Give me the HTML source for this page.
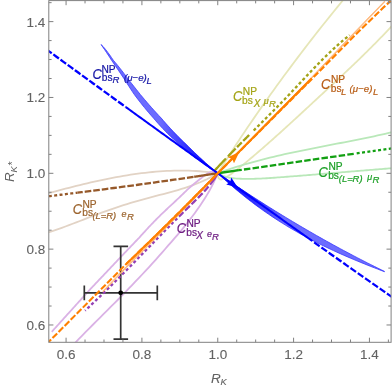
<!DOCTYPE html>
<html><head><meta charset="utf-8"><title>RK vs RK*</title>
<style>
html,body{margin:0;padding:0;background:#fff;}
body{width:392px;height:388px;overflow:hidden;position:relative;font-family:"Liberation Sans",sans-serif;}
svg text{font-family:"Liberation Sans",sans-serif;}
</style></head><body>
<svg width="392" height="388" viewBox="0 0 392 388" style="position:absolute;left:0;top:0;will-change:transform">
<defs><linearGradient id="g1" gradientUnits="userSpaceOnUse" x1="160" y1="0" x2="205" y2="0"><stop offset="0" stop-color="#0000ff" stop-opacity="0"/><stop offset="1" stop-color="#0000ff" stop-opacity="0.9"/></linearGradient><linearGradient id="g2" gradientUnits="userSpaceOnUse" x1="232" y1="0" x2="285" y2="0"><stop offset="0" stop-color="#0000ff" stop-opacity="0.9"/><stop offset="1" stop-color="#0000ff" stop-opacity="0"/></linearGradient><clipPath id="cp"><rect x="48.80" y="0.60" width="342.30" height="341.70"/></clipPath></defs>
<g clip-path="url(#cp)">
<path d="M217.75 173.25 L220.65 168.63 L223.57 164.02 L226.51 159.40 L229.48 154.79 L232.48 150.17 L235.49 145.56 L238.54 140.94 L241.60 136.33 L244.70 131.71 L247.81 127.10 L250.95 122.48 L254.11 117.87 L257.30 113.25 L260.51 108.63 L263.75 104.02 L267.01 99.40 L270.30 94.79 L273.61 90.17 L276.94 85.56 L280.30 80.94 L283.68 76.33 L287.09 71.71 L290.52 67.10 L293.97 62.48 L297.45 57.87 L300.96 53.25 L304.49 48.63 L308.04 44.02 L311.62 39.40 L315.22 34.79 L318.84 30.17 L322.49 25.56 L326.16 20.94 L329.86 16.33 L333.59 11.71 L337.33 7.10 L341.10 2.48 L344.90 -2.13 L348.72 -6.75" fill="none" stroke="#e6e6b8" stroke-width="1.8"/>
<path d="M217.75 173.25 L217.78 175.67 L218.45 177.71 L219.62 179.08 L221.13 179.48 L222.83 178.95 L224.56 178.07 L226.26 177.11 L227.94 176.10 L229.58 175.04 L231.21 173.93 L232.81 172.78 L234.40 171.60 L235.98 170.40 L237.54 169.17 L239.10 167.92 L240.66 166.67 L242.21 165.41 L243.76 164.15 L245.30 162.88 L246.85 161.60 L248.39 160.32 L249.93 159.03 L251.47 157.74 L253.01 156.45 L254.55 155.15 L256.08 153.84 L257.61 152.53 L259.14 151.22 L260.67 149.90 L262.19 148.58 L263.72 147.26 L265.24 145.93 L266.76 144.60 L268.28 143.26 L269.79 141.92 L271.31 140.58 L272.82 139.24 L274.33 137.89 L275.84 136.54 L277.35 135.19 L278.85 133.84 L280.36 132.48 L281.86 131.12 L283.36 129.76 L284.86 128.40 L286.36 127.04 L287.85 125.68 L289.34 124.31 L290.84 122.95 L292.33 121.58 L293.82 120.21 L295.30 118.84 L296.79 117.48 L298.27 116.11 L299.75 114.74 L301.24 113.37 L302.72 112.00 L304.19 110.64 L305.67 109.27 L307.14 107.91 L308.62 106.54 L310.09 105.18 L311.56 103.81 L313.03 102.45 L314.50 101.09 L315.96 99.73 L317.43 98.38 L318.89 97.02 L320.35 95.67 L321.81 94.32 L323.27 92.97 L324.73 91.62 L326.19 90.27 L327.64 88.92 L329.10 87.57 L330.55 86.23 L332.00 84.88 L333.45 83.53 L334.90 82.18 L336.35 80.83 L337.79 79.48 L339.24 78.13 L340.68 76.78 L342.13 75.43 L343.57 74.08 L345.01 72.72 L346.45 71.36 L347.89 70.00 L349.33 68.64 L350.76 67.28 L352.20 65.91 L353.63 64.54 L355.06 63.17 L356.50 61.79 L357.93 60.41 L359.36 59.03 L360.79 57.64 L362.22 56.25 L363.64 54.85 L365.07 53.45 L366.49 52.05 L367.92 50.64 L369.34 49.23 L370.76 47.81 L372.19 46.39 L373.61 44.96 L375.03 43.52 L376.45 42.08 L377.86 40.64 L379.28 39.18 L380.70 37.73 L382.11 36.26 L383.53 34.79 L384.94 33.31 L386.36 31.82 L387.77 30.33 L389.18 28.83 L390.59 27.32 L392.01 25.80" fill="none" stroke="#e6e6b8" stroke-width="1.8"/>
<path d="M217.75 173.25 L221.47 171.92 L225.19 170.62 L228.91 169.37 L232.63 168.15 L236.35 166.97 L240.07 165.82 L243.79 164.70 L247.51 163.62 L251.22 162.57 L254.94 161.54 L258.66 160.55 L262.38 159.58 L266.10 158.63 L269.82 157.71 L273.54 156.81 L277.26 155.93 L280.98 155.08 L284.70 154.24 L288.42 153.42 L292.14 152.61 L295.86 151.82 L299.58 151.04 L303.30 150.28 L307.02 149.52 L310.73 148.78 L314.45 148.04 L318.17 147.31 L321.89 146.59 L325.61 145.87 L329.33 145.15 L333.05 144.43 L336.77 143.72 L340.49 143.00 L344.21 142.28 L347.93 141.56 L351.65 140.83 L355.37 140.10 L359.09 139.36 L362.81 138.61 L366.53 137.85 L370.24 137.07 L373.96 136.29 L377.68 135.49 L381.40 134.67 L385.12 133.84 L388.84 132.99 L392.56 132.12 L396.28 131.23 L400.00 130.32" fill="none" stroke="#b9e8b9" stroke-width="1.8"/>
<path d="M217.75 173.25 L219.48 174.22 L221.21 175.06 L222.96 175.79 L224.71 176.41 L226.47 176.94 L228.23 177.38 L230.01 177.74 L231.79 178.03 L233.57 178.26 L235.37 178.44 L237.17 178.57 L238.97 178.68 L240.78 178.75 L242.60 178.81 L244.42 178.85 L246.24 178.87 L248.07 178.88 L249.91 178.87 L251.74 178.85 L253.59 178.81 L255.43 178.76 L257.28 178.70 L259.13 178.63 L260.98 178.54 L262.83 178.45 L264.69 178.35 L266.55 178.24 L268.41 178.12 L270.27 178.00 L272.13 177.87 L274.00 177.74 L275.86 177.61 L277.72 177.47 L279.59 177.33 L281.45 177.19 L283.31 177.04 L285.17 176.90 L287.04 176.76 L288.90 176.61 L290.76 176.47 L292.62 176.32 L294.48 176.17 L296.33 176.03 L298.19 175.88 L300.05 175.73 L301.91 175.58 L303.77 175.43 L305.62 175.28 L307.48 175.13 L309.33 174.98 L311.19 174.83 L313.04 174.68 L314.90 174.53 L316.75 174.37 L318.61 174.22 L320.46 174.07 L322.32 173.92 L324.17 173.76 L326.02 173.61 L327.87 173.46 L329.73 173.30 L331.58 173.15 L333.43 172.99 L335.28 172.84 L337.13 172.69 L338.98 172.53 L340.83 172.38 L342.68 172.22 L344.53 172.07 L346.38 171.92 L348.23 171.76 L350.08 171.61 L351.93 171.45 L353.78 171.30 L355.63 171.15 L357.48 171.00 L359.33 170.84 L361.18 170.69 L363.03 170.54 L364.88 170.39 L366.73 170.24 L368.57 170.08 L370.42 169.93 L372.27 169.78 L374.12 169.63 L375.97 169.48 L377.82 169.34 L379.66 169.19 L381.51 169.04 L383.36 168.89 L385.21 168.75 L387.06 168.60 L388.91 168.46 L390.75 168.31 L392.60 168.17 L394.45 168.02 L396.30 167.88 L398.15 167.74 L400.00 167.60" fill="none" stroke="#b9e8b9" stroke-width="1.8"/>
<path d="M40.00 195.44 L43.63 194.46 L47.26 193.49 L50.88 192.52 L54.51 191.55 L58.14 190.60 L61.77 189.65 L65.39 188.71 L69.02 187.78 L72.65 186.86 L76.28 185.96 L79.90 185.07 L83.53 184.19 L87.16 183.33 L90.79 182.49 L94.41 181.67 L98.04 180.86 L101.67 180.08 L105.30 179.32 L108.92 178.59 L112.55 177.88 L116.18 177.19 L119.81 176.53 L123.43 175.90 L127.06 175.30 L130.69 174.73 L134.32 174.19 L137.94 173.68 L141.57 173.21 L145.20 172.78 L148.83 172.38 L152.45 172.01 L156.08 171.69 L159.71 171.40 L163.34 171.16 L166.96 170.96 L170.59 170.80 L174.22 170.69 L177.85 170.62 L181.47 170.60 L185.10 170.63 L188.73 170.71 L192.36 170.84 L195.98 171.02 L199.61 171.25 L203.24 171.54 L206.87 171.88 L210.49 172.28 L214.12 172.73 L217.75 173.25" fill="none" stroke="#e2d3c5" stroke-width="1.8"/>
<path d="M40.00 234.57 L43.63 233.65 L47.26 232.63 L50.88 231.53 L54.51 230.36 L58.14 229.12 L61.77 227.84 L65.39 226.51 L69.02 225.16 L72.65 223.77 L76.28 222.38 L79.90 220.97 L83.53 219.56 L87.16 218.15 L90.79 216.76 L94.41 215.37 L98.04 214.01 L101.67 212.67 L105.30 211.35 L108.92 210.06 L112.55 208.80 L116.18 207.57 L119.81 206.37 L123.43 205.21 L127.06 204.08 L130.69 202.98 L134.32 201.90 L137.94 200.86 L141.57 199.84 L145.20 198.84 L148.83 197.86 L152.45 196.90 L156.08 195.94 L159.71 194.98 L163.34 194.02 L166.96 193.05 L170.59 192.06 L174.22 191.05 L177.85 190.01 L181.47 188.92 L185.10 187.77 L188.73 186.57 L192.36 185.29 L195.98 183.93 L199.61 182.47 L203.24 180.90 L206.87 179.20 L210.49 177.38 L214.12 175.40 L217.75 173.25" fill="none" stroke="#e2d3c5" stroke-width="1.8"/>
<path d="M217.75 173.24 L216.33 172.12 L214.93 171.54 L213.54 171.39 L212.17 171.56 L210.81 171.95 L209.46 172.50 L208.13 173.19 L206.81 173.98 L205.50 174.86 L204.21 175.80 L202.92 176.78 L201.65 177.77 L200.38 178.76 L199.13 179.75 L197.88 180.74 L196.65 181.72 L195.42 182.71 L194.20 183.71 L192.99 184.72 L191.78 185.74 L190.58 186.77 L189.39 187.82 L188.24 188.89 L187.10 189.97 L185.96 191.05 L184.83 192.14 L183.70 193.24 L182.58 194.33 L181.45 195.42 L180.33 196.50 L179.21 197.57 L178.10 198.63 L176.98 199.69 L175.86 200.74 L174.75 201.78 L173.64 202.81 L172.53 203.85 L171.42 204.87 L170.32 205.90 L169.21 206.93 L168.11 207.95 L167.01 208.98 L165.91 210.01 L164.82 211.04 L163.73 212.07 L162.64 213.11 L161.55 214.16 L160.47 215.22 L159.39 216.28 L158.31 217.34 L157.24 218.42 L156.17 219.50 L155.10 220.59 L154.03 221.68 L152.97 222.78 L151.91 223.89 L150.85 225.00 L149.79 226.12 L148.74 227.24 L147.69 228.37 L146.64 229.50 L145.59 230.63 L144.54 231.77 L143.50 232.91 L142.46 234.06 L141.42 235.21 L140.38 236.36 L139.35 237.52 L138.26 238.68 L137.13 239.84 L136.01 241.00 L134.89 242.17 L133.77 243.34 L132.65 244.51 L131.53 245.68 L130.41 246.85 L129.29 248.02 L128.18 249.19 L127.06 250.37 L125.95 251.54 L124.84 252.71 L123.73 253.88 L122.62 255.06 L121.51 256.23 L120.40 257.40 L119.29 258.57 L118.19 259.74 L117.08 260.91 L115.98 262.07 L114.87 263.24 L113.77 264.40 L112.66 265.57 L111.56 266.73 L110.46 267.89 L109.36 269.05 L108.26 270.22 L107.16 271.38 L106.06 272.54 L104.96 273.70 L103.86 274.85 L102.76 276.01 L101.66 277.17 L100.56 278.33 L99.47 279.49 L98.37 280.64 L97.27 281.80 L96.18 282.96 L95.08 284.11 L93.99 285.27 L92.89 286.42 L91.79 287.58 L90.73 288.73 L89.68 289.89 L88.63 291.05 L87.58 292.20 L86.53 293.36 L85.48 294.51 L84.43 295.67 L83.39 296.83 L82.34 297.98 L81.29 299.14 L80.24 300.30 L79.19 301.45 L78.14 302.61 L77.09 303.77 L76.04 304.93 L74.99 306.09 L73.94 307.25 L72.89 308.41 L71.84 309.57 L70.79 310.73 L69.74 311.89 L68.69 313.06 L67.64 314.22 L66.58 315.38 L65.53 316.55 L64.48 317.72 L63.42 318.88 L62.37 320.05 L61.32 321.22 L60.26 322.39 L59.21 323.56 L58.15 324.74 L57.09 325.91 L56.04 327.09 L54.98 328.26 L53.92 329.44 L52.86 330.62 L51.80 331.80" fill="none" stroke="#dab2e5" stroke-width="1.8"/>
<path d="M217.75 173.25 L216.25 176.86 L214.64 180.46 L212.92 184.07 L211.09 187.68 L209.12 191.29 L206.98 194.89 L204.75 198.50 L202.43 202.11 L200.01 205.71 L197.50 209.32 L194.91 212.93 L192.23 216.54 L189.48 220.14 L186.65 223.75 L183.74 227.36 L180.77 230.96 L177.73 234.57 L174.63 238.18 L171.46 241.79 L168.26 245.39 L165.18 249.00 L162.05 252.61 L158.87 256.21 L155.65 259.82 L152.39 263.43 L149.08 267.04 L145.74 270.64 L142.37 274.25 L138.97 277.86 L135.54 281.46 L132.10 285.07 L128.63 288.68 L125.14 292.29 L121.64 295.89 L118.13 299.50 L114.53 303.11 L110.91 306.71 L107.29 310.32 L103.67 313.93 L100.06 317.54 L96.45 321.14 L92.86 324.75 L89.28 328.36 L85.72 331.96 L82.18 335.57 L78.66 339.18 L75.17 342.79 L71.71 346.39 L68.29 350.00" fill="none" stroke="#dab2e5" stroke-width="1.8"/>
<g stroke="#333333" stroke-width="1.7" fill="none"><path d="M120.7 246.4V339.1M113.5 246.4H128.1M113.5 339.1H128.1M84.3 292.8H157.3M84.3 285.4V300.2M157.3 285.4V300.2"/></g>
<circle cx="120.7" cy="292.8" r="2.4" fill="#000"/>
<path d="M101.02 44.50 L103.67 47.13 L105.80 49.76 L107.82 52.38 L109.74 55.01 L111.56 57.64 L113.35 60.27 L115.59 62.89 L117.75 65.52 L119.86 68.15 L121.92 70.78 L123.93 73.40 L125.91 76.03 L127.86 78.66 L129.88 81.29 L131.96 83.91 L134.03 86.54 L136.11 89.17 L138.19 91.80 L140.28 94.42 L142.47 97.05 L144.70 99.68 L146.95 102.31 L149.23 104.93 L151.54 107.56 L153.90 110.19 L156.29 112.82 L158.73 115.44 L161.21 118.07 L163.46 120.70 L165.77 123.33 L168.13 125.95 L170.54 128.58 L173.01 131.21 L175.54 133.84 L178.12 136.46 L180.76 139.09 L183.46 141.72 L186.22 144.35 L188.87 146.97 L191.52 149.60 L194.23 152.23 L196.99 154.86 L199.80 157.48 L202.66 160.11 L205.56 162.74 L208.52 165.37 L211.56 167.99 L214.64 170.62 L217.75 173.25 L217.75 173.25 L213.57 170.62 L209.61 167.99 L205.95 165.37 L202.28 162.74 L198.62 160.11 L194.96 157.48 L191.50 154.86 L188.28 152.23 L185.17 149.60 L182.18 146.97 L179.24 144.35 L176.27 141.72 L173.39 139.09 L170.61 136.46 L167.92 133.84 L165.31 131.21 L162.79 128.58 L160.35 125.95 L157.98 123.33 L155.68 120.70 L153.45 118.07 L151.12 115.44 L148.84 112.82 L146.61 110.19 L144.44 107.56 L142.31 104.93 L140.23 102.31 L138.19 99.68 L136.18 97.05 L134.24 94.42 L132.48 91.80 L130.76 89.17 L129.05 86.54 L127.37 83.91 L125.69 81.29 L123.98 78.66 L122.22 76.03 L120.47 73.40 L118.71 70.78 L116.94 68.15 L115.17 65.52 L113.37 62.89 L111.56 60.27 L109.87 57.64 L108.17 55.01 L106.44 52.38 L104.67 49.76 L102.87 47.13 L101.02 44.50Z" fill="#6c6cff" stroke="#3a3aff" stroke-width="0.8" stroke-linejoin="round"/>
<path d="M101.02 44.50 L103.67 47.13 L105.80 49.76 L107.82 52.38 L109.74 55.01 L111.56 57.64 L113.35 60.27 L115.59 62.89 L117.75 65.52 L119.86 68.15 L121.92 70.78 L123.93 73.40 L125.91 76.03 L127.86 78.66 L129.88 81.29 L131.96 83.91 L134.03 86.54 L136.11 89.17 L138.19 91.80 L140.28 94.42 L142.47 97.05 L144.70 99.68 L146.95 102.31 L149.23 104.93 L151.54 107.56 L153.90 110.19 L156.29 112.82 L158.73 115.44 L161.21 118.07 L163.46 120.70 L165.77 123.33 L168.13 125.95 L170.54 128.58 L173.01 131.21 L175.54 133.84 L178.12 136.46 L180.76 139.09 L183.46 141.72 L186.22 144.35 L188.87 146.97 L191.52 149.60 L194.23 152.23 L196.99 154.86 L199.80 157.48 L202.66 160.11 L205.56 162.74 L208.52 165.37 L211.56 167.99 L214.64 170.62 L217.75 173.25 L217.75 173.25 L213.57 170.62 L209.61 167.99 L205.95 165.37 L202.28 162.74 L198.62 160.11 L194.96 157.48 L191.50 154.86 L188.28 152.23 L185.17 149.60 L182.18 146.97 L179.24 144.35 L176.27 141.72 L173.39 139.09 L170.61 136.46 L167.92 133.84 L165.31 131.21 L162.79 128.58 L160.35 125.95 L157.98 123.33 L155.68 120.70 L153.45 118.07 L151.12 115.44 L148.84 112.82 L146.61 110.19 L144.44 107.56 L142.31 104.93 L140.23 102.31 L138.19 99.68 L136.18 97.05 L134.24 94.42 L132.48 91.80 L130.76 89.17 L129.05 86.54 L127.37 83.91 L125.69 81.29 L123.98 78.66 L122.22 76.03 L120.47 73.40 L118.71 70.78 L116.94 68.15 L115.17 65.52 L113.37 62.89 L111.56 60.27 L109.87 57.64 L108.17 55.01 L106.44 52.38 L104.67 49.76 L102.87 47.13 L101.02 44.50Z" fill="url(#g1)" stroke="none"/>
<path d="M217.75 173.25 L221.15 175.59 L224.56 177.92 L227.96 180.23 L231.36 182.53 L234.77 184.82 L238.17 187.09 L241.57 189.35 L244.97 191.59 L248.38 193.82 L251.78 196.04 L255.18 198.24 L258.59 200.42 L261.99 202.60 L265.39 204.76 L268.80 206.90 L272.20 209.03 L275.60 211.15 L279.01 213.25 L282.41 215.34 L285.81 217.41 L289.21 219.47 L292.62 221.51 L296.02 223.55 L299.42 225.56 L302.83 227.57 L306.23 229.55 L309.63 231.53 L313.04 233.49 L316.44 235.44 L319.84 237.37 L323.24 239.29 L326.65 241.19 L330.05 243.08 L333.45 244.96 L336.86 246.82 L340.26 248.66 L343.66 250.50 L347.07 252.32 L350.47 254.12 L353.87 255.91 L357.28 257.69 L360.68 259.45 L364.08 261.20 L367.48 262.93 L370.89 264.65 L374.29 266.36 L377.69 268.05 L381.10 269.73 L384.50 271.39 L384.50 271.73 L381.10 270.43 L377.69 269.12 L374.29 267.80 L370.89 266.47 L367.48 265.13 L364.08 263.76 L360.68 262.39 L357.28 260.99 L353.87 259.57 L350.47 258.13 L347.07 256.68 L343.66 255.19 L340.26 253.69 L336.86 252.16 L333.45 250.60 L330.05 249.01 L326.65 247.40 L323.24 245.76 L319.84 244.08 L316.44 242.37 L313.04 240.63 L309.63 238.85 L306.23 237.04 L302.83 235.19 L299.42 233.30 L296.02 231.37 L292.62 229.40 L289.21 227.39 L285.81 225.33 L282.41 223.23 L279.01 221.08 L275.60 218.89 L272.20 216.65 L268.80 214.36 L265.39 212.02 L261.99 209.62 L258.59 207.18 L255.18 204.68 L251.78 202.12 L248.38 199.51 L244.97 196.84 L241.57 194.11 L238.17 191.32 L234.77 188.47 L231.36 185.56 L227.96 182.58 L224.56 179.54 L221.15 176.43 L217.75 173.25Z" fill="#6c6cff" stroke="#3a3aff" stroke-width="0.8" stroke-linejoin="round"/>
<path d="M217.75 173.25 L221.15 175.59 L224.56 177.92 L227.96 180.23 L231.36 182.53 L234.77 184.82 L238.17 187.09 L241.57 189.35 L244.97 191.59 L248.38 193.82 L251.78 196.04 L255.18 198.24 L258.59 200.42 L261.99 202.60 L265.39 204.76 L268.80 206.90 L272.20 209.03 L275.60 211.15 L279.01 213.25 L282.41 215.34 L285.81 217.41 L289.21 219.47 L292.62 221.51 L296.02 223.55 L299.42 225.56 L302.83 227.57 L306.23 229.55 L309.63 231.53 L313.04 233.49 L316.44 235.44 L319.84 237.37 L323.24 239.29 L326.65 241.19 L330.05 243.08 L333.45 244.96 L336.86 246.82 L340.26 248.66 L343.66 250.50 L347.07 252.32 L350.47 254.12 L353.87 255.91 L357.28 257.69 L360.68 259.45 L364.08 261.20 L367.48 262.93 L370.89 264.65 L374.29 266.36 L377.69 268.05 L381.10 269.73 L384.50 271.39 L384.50 271.73 L381.10 270.43 L377.69 269.12 L374.29 267.80 L370.89 266.47 L367.48 265.13 L364.08 263.76 L360.68 262.39 L357.28 260.99 L353.87 259.57 L350.47 258.13 L347.07 256.68 L343.66 255.19 L340.26 253.69 L336.86 252.16 L333.45 250.60 L330.05 249.01 L326.65 247.40 L323.24 245.76 L319.84 244.08 L316.44 242.37 L313.04 240.63 L309.63 238.85 L306.23 237.04 L302.83 235.19 L299.42 233.30 L296.02 231.37 L292.62 229.40 L289.21 227.39 L285.81 225.33 L282.41 223.23 L279.01 221.08 L275.60 218.89 L272.20 216.65 L268.80 214.36 L265.39 212.02 L261.99 209.62 L258.59 207.18 L255.18 204.68 L251.78 202.12 L248.38 199.51 L244.97 196.84 L241.57 194.11 L238.17 191.32 L234.77 188.47 L231.36 185.56 L227.96 182.58 L224.56 179.54 L221.15 176.43 L217.75 173.25Z" fill="url(#g2)" stroke="none"/>
<path d="M194.20 176.76 L190.18 177.35 L186.16 177.94 L182.14 178.52 L178.12 179.10 L174.10 179.68 L170.08 180.25 L166.06 180.82 L162.03 181.39 L158.01 181.96 L153.99 182.52 L149.97 183.08 L145.95 183.64 L141.93 184.19 L137.91 184.74 L133.89 185.29 L129.87 185.84 L125.85 186.38 L121.83 186.92 L117.81 187.46 L113.79 187.99 L109.77 188.52 L105.74 189.05 L101.72 189.58 L97.70 190.10 L93.68 190.62 L89.66 191.13 L85.64 191.65 L81.62 192.16 L77.60 192.67" fill="none" stroke="#96592a" stroke-width="2.3" stroke-dasharray="6.6 2.0" stroke-dashoffset="7.9"/>
<path d="M217.75 173.25 L216.94 173.37 L216.13 173.50 L215.31 173.62 L214.50 173.74 L213.69 173.86 L212.88 173.98 L212.07 174.11 L211.25 174.23 L210.44 174.35 L209.63 174.47 L208.82 174.59 L208.01 174.71 L207.19 174.84 L206.38 174.96 L205.57 175.08 L204.76 175.20 L203.94 175.32 L203.13 175.44 L202.32 175.56 L201.51 175.68 L200.70 175.80 L199.88 175.92 L199.07 176.04 L198.26 176.16 L197.45 176.28 L196.64 176.40 L195.82 176.52 L195.01 176.64 L194.20 176.76" fill="none" stroke="#96592a" stroke-width="2.3"/>
<path d="M77.60 192.67 L76.30 192.83 L75.01 192.99 L73.71 193.15 L72.41 193.32 L71.12 193.48 L69.82 193.64 L68.52 193.80 L67.23 193.96 L65.93 194.12 L64.63 194.28 L63.34 194.44 L62.04 194.60 L60.74 194.76 L59.45 194.92 L58.15 195.08 L56.86 195.24 L55.56 195.40 L54.26 195.56 L52.97 195.71 L51.67 195.87 L50.37 196.03 L49.08 196.18 L47.78 196.34 L46.48 196.50 L45.19 196.65 L43.89 196.81 L42.59 196.96 L41.30 197.12 L40.00 197.27" fill="none" stroke="#96592a" stroke-width="2.3" stroke-dasharray="3.0 2.4" stroke-dashoffset="1.0"/>
<path d="M217.75 173.25 L238.90 170.23" fill="none" stroke="#12a012" stroke-width="2.3"/>
<path d="M238.90 170.23 L354.50 153.69" fill="none" stroke="#12a012" stroke-width="2.3" stroke-dasharray="6.5 2.2" stroke-dashoffset="3.6"/>
<path d="M354.50 153.69 L400.00 147.19" fill="none" stroke="#12a012" stroke-width="2.3" stroke-dasharray="3.0 2.4" stroke-dashoffset="-2.2"/>
<path d="M214.30 171.00 L214.95 170.29 L215.60 169.57 L216.25 168.86 L216.90 168.15 L217.55 167.44 L218.21 166.73 L218.86 166.02 L219.52 165.32 L220.18 164.61 L220.84 163.91 L221.50 163.20 L222.16 162.50 L222.82 161.80 L223.48 161.10 L224.15 160.40 L224.81 159.70 L225.48 159.00 L226.14 158.31 L226.81 157.61 L227.48 156.92 L228.15 156.22 L228.82 155.53 L229.49 154.84 L230.16 154.14 L230.83 153.45 L231.50 152.76 L232.17 152.07 L232.85 151.38 L233.52 150.70 L234.20 150.01 L234.87 149.32 L235.55 148.63 L236.23 147.95 L236.90 147.26 L237.58 146.58 L238.26 145.89 L238.94 145.21 L239.62 144.53 L240.30 143.84 L240.98 143.16 L241.66 142.48 L242.34 141.80 L243.02 141.11 L243.70 140.43 L244.38 139.75 L245.06 139.07 L245.75 138.39 L246.43 137.71 L247.11 137.03 L247.79 136.35 L248.48 135.67 L249.16 134.99 L249.84 134.31 L250.53 133.63 L251.21 132.95 L251.89 132.27" fill="none" stroke="#a3a316" stroke-width="2.3" stroke-dasharray="17 3 11 2 6.7 2 8.4 50"/>
<path d="M252.58 131.59 L253.26 130.91 L253.94 130.23 L254.63 129.56 L255.31 128.88 L255.99 128.20 L256.68 127.52 L257.36 126.84 L258.04 126.16 L258.72 125.48 L259.41 124.80 L260.09 124.12 L260.77 123.44 L261.45 122.76 L262.13 122.08 L262.82 121.40 L263.50 120.72 L264.18 120.04 L264.86 119.35 L265.54 118.67 L266.22 117.99 L266.90 117.31 L267.58 116.63 L268.26 115.94 L268.94 115.26 L269.62 114.58 L270.30 113.89 L270.98 113.21 L271.66 112.53 L272.33 111.84 L273.01 111.16 L273.69 110.47 L274.36 109.79 L275.04 109.10 L275.72 108.41 L276.39 107.73 L277.07 107.04 L277.74 106.35 L278.41 105.66 L279.09 104.97 L279.76 104.28 L280.43 103.59 L281.11 102.90 L281.78 102.21 L282.45 101.52 L283.12 100.83 L283.79 100.14 L284.46 99.44 L285.13 98.75 L285.80 98.06 L286.46 97.36 L287.13 96.67 L287.80 95.97 L288.46 95.27 L289.13 94.58 L289.79 93.88 L290.46 93.18 L291.12 92.48 L291.78 91.78 L292.44 91.08 L293.11 90.38 L293.77 89.68 L294.43 88.97 L295.09 88.27 L295.75 87.57 L296.41 86.86 L297.07 86.16 L297.73 85.46 L298.39 84.75 L299.04 84.05 L299.70 83.35 L300.36 82.64 L301.02 81.94 L301.68 81.23 L302.34 80.53 L303.00 79.82 L303.66 79.12 L304.32 78.42 L304.98 77.71 L305.64 77.01 L306.30 76.31 L306.96 75.60 L307.62 74.90 L308.28 74.20 L308.94 73.50 L309.60 72.80 L310.27 72.10 L310.93 71.40 L311.59 70.70 L312.26 70.00 L312.93 69.30 L313.59 68.61 L314.26 67.91 L314.93 67.22 L315.60 66.52 L316.27 65.83 L316.94 65.14 L317.61 64.45 L318.28 63.76 L318.96 63.07 L319.63 62.38 L320.31 61.69 L320.99 61.01 L321.67 60.32 L322.35 59.64 L323.03 58.96 L323.71 58.28 L324.40 57.60 L325.08 56.93 L325.77 56.25 L326.46 55.58 L327.15 54.90 L327.85 54.23 L328.54 53.56 L329.24 52.90 L329.93 52.23 L330.63 51.57 L331.33 50.91 L332.04 50.25 L332.74 49.59 L333.45 48.93 L334.16 48.28 L334.87 47.63 L335.59 46.98 L336.30 46.33 L337.02 45.69 L337.74 45.04 L338.46 44.40 L339.19 43.77 L339.91 43.13 L340.64 42.50 L341.37 41.87 L342.11 41.24 L342.85 40.61 L343.59 39.99 L344.33 39.37 L345.07 38.75 L345.82 38.13 L346.57 37.52 L347.32 36.91 L348.08 36.30 L348.84 35.70 L349.60 35.10" fill="none" stroke="#a3a316" stroke-width="2.3" stroke-dasharray="3.0 2.4" stroke-dashoffset="-1.5"/>
<path d="M217.75 173.25 L217.29 174.06 L216.82 174.87 L216.34 175.66 L215.85 176.46 L215.35 177.24 L214.84 178.02 L214.32 178.80 L213.79 179.57 L213.25 180.34 L212.70 181.10 L212.14 181.85 L211.58 182.60 L211.01 183.35 L210.43 184.09 L209.84 184.83 L209.24 185.57 L208.64 186.30 L208.03 187.02 L207.42 187.75 L206.79 188.47 L206.17 189.18 L205.53 189.90 L204.89 190.60 L204.25 191.31 L203.60 192.02 L202.95 192.72 L202.29 193.42 L201.63 194.11 L200.96 194.81 L200.29 195.50 L199.62 196.19 L198.94 196.88 L198.26 197.57 L197.58 198.25 L196.90 198.93 L196.21 199.62 L195.52 200.30 L194.83 200.98 L194.14 201.66 L193.45 202.34 L192.75 203.02 L192.06 203.70 L191.37 204.37 L190.67 205.05 L189.98 205.73 L189.28 206.41 L188.59 207.08 L187.90 207.76 L187.21 208.44 L186.51 209.12 L185.82 209.80 L185.14 210.48 L184.45 211.16 L183.76 211.84 L183.07 212.52 L182.38 213.20 L181.70 213.88 L181.01 214.56 L180.33 215.24 L179.64 215.93 L178.96 216.61" fill="none" stroke="#9440b4" stroke-width="2.3" stroke-dasharray="13.8 2.3 6.7 2.3 6.7 2.3 6.7 2.3 6.7 2.3 6.7 2.3 6.7 2.3 6.7 2.3 6.7 2.3 6.7 2.3 6.7 2.3 6.7 2.3 6.7 2.3"/>
<path d="M178.28 217.29 L177.59 217.97 L176.91 218.66 L176.23 219.34 L175.55 220.02 L174.87 220.71 L174.19 221.39 L173.51 222.07 L172.83 222.76 L172.15 223.44 L171.47 224.13 L170.80 224.81 L170.12 225.50 L169.44 226.18 L168.77 226.87 L168.09 227.55 L167.42 228.24 L166.74 228.92 L166.07 229.61 L165.39 230.30 L164.72 230.98 L164.05 231.67 L163.37 232.35 L162.70 233.04 L162.03 233.73 L161.36 234.41 L160.68 235.10 L160.01 235.79 L159.34 236.47 L158.67 237.16 L158.00 237.85 L157.33 238.54 L156.66 239.22 L155.99 239.91 L155.32 240.60 L154.65 241.29 L153.98 241.97 L153.31 242.66 L152.64 243.35 L151.97 244.04 L151.30 244.72 L150.63 245.41 L149.96 246.10 L149.29 246.79 L148.63 247.47 L147.96 248.16 L147.29 248.85 L146.62 249.54 L145.95 250.22 L145.28 250.91 L144.61 251.60 L143.94 252.29 L143.28 252.97 L142.61 253.66 L141.94 254.35 L141.27 255.03 L140.60 255.72 L139.93 256.41 L139.26 257.10 L138.59 257.78 L137.92 258.47 L137.25 259.16 L136.59 259.84 L135.92 260.53 L135.25 261.22 L134.58 261.90 L133.91 262.59 L133.24 263.27 L132.56 263.96 L131.89 264.64 L131.22 265.33 L130.55 266.02 L129.88 266.70 L129.21 267.39 L128.54 268.07 L127.86 268.75 L127.19 269.44 L126.52 270.12 L125.84 270.81 L125.17 271.49 L124.50 272.17 L123.82 272.86 L123.15 273.54 L122.47 274.22 L121.80 274.91 L121.12 275.59 L120.44 276.27 L119.77 276.95 L119.09 277.64 L118.41 278.32 L117.73 279.00 L117.05 279.68 L116.37 280.36 L115.69 281.04 L115.01 281.72 L114.33 282.40 L113.65 283.08 L112.97 283.76 L112.29 284.44 L111.60 285.12 L110.92 285.79 L110.24 286.47 L109.55 287.15 L108.87 287.83 L108.18 288.50 L107.49 289.18 L106.81 289.85 L106.12 290.53 L105.43 291.21 L104.74 291.88 L104.05 292.56 L103.36 293.23 L102.67 293.90 L101.97 294.58 L101.28 295.25 L100.59 295.92 L99.89 296.59 L99.20 297.27 L98.50 297.94 L97.80 298.61 L97.10 299.28 L96.41 299.95 L95.71 300.62 L95.01 301.29 L94.30 301.96 L93.60 302.62 L92.90 303.29 L92.19 303.96 L91.49 304.63 L90.78 305.29 L90.08 305.96 L89.37 306.62 L88.66 307.29 L87.95 307.95 L87.24 308.62 L86.53 309.28 L85.81 309.94 L85.10 310.60" fill="none" stroke="#9440b4" stroke-width="2.3" stroke-dasharray="3.0 2.4" stroke-dashoffset="-1.5"/>
<path d="M40.00 44.72 L41.75 46.00 L43.50 47.27 L45.25 48.55 L47.00 49.83 L48.76 51.11 L50.51 52.38 L52.26 53.66 L54.01 54.94 L55.76 56.21 L57.51 57.49 L59.26 58.77 L61.01 60.04 L62.76 61.32 L64.51 62.59 L66.27 63.87 L68.02 65.14 L69.77 66.42 L71.52 67.69 L73.27 68.97 L75.02 70.24 L76.77 71.51 L78.52 72.79 L80.27 74.06 L82.02 75.33 L83.78 76.61 L85.53 77.88 L87.28 79.15 L89.03 80.42 L90.78 81.69 L92.53 82.97 L94.28 84.24 L96.03 85.51 L97.78 86.78 L99.53 88.05 L101.29 89.32 L103.04 90.59 L104.79 91.86 L106.54 93.13 L108.29 94.40 L110.04 95.67 L111.79 96.93 L113.54 98.20 L115.29 99.47 L117.04 100.74 L118.80 102.01 L120.55 103.27 L122.30 104.54 L124.05 105.81 L125.80 107.08" fill="none" stroke="#0000ff" stroke-width="2.3" stroke-dasharray="6.9 2.0" stroke-dashoffset="1.3"/>
<path d="M312.30 241.04 L314.09 242.31 L315.88 243.57 L317.67 244.84 L319.46 246.11 L321.25 247.38 L323.04 248.64 L324.83 249.91 L326.62 251.18 L328.41 252.44 L330.20 253.71 L331.99 254.97 L333.78 256.23 L335.57 257.50 L337.36 258.76 L339.15 260.02 L340.94 261.28 L342.73 262.55 L344.52 263.81 L346.31 265.07 L348.10 266.33 L349.89 267.59 L351.68 268.84 L353.47 270.10 L355.26 271.36 L357.04 272.62 L358.83 273.87 L360.62 275.13 L362.41 276.39 L364.20 277.64 L365.99 278.89 L367.78 280.15 L369.57 281.40 L371.36 282.66 L373.15 283.91 L374.94 285.16 L376.73 286.41 L378.52 287.66 L380.31 288.91 L382.10 290.16 L383.89 291.41 L385.68 292.66 L387.47 293.91 L389.26 295.16 L391.05 296.40 L392.84 297.65 L394.63 298.90 L396.42 300.14 L398.21 301.39 L400.00 302.63" fill="none" stroke="#0000ff" stroke-width="2.3" stroke-dasharray="6.7 2.2" stroke-dashoffset="6.6"/>
<path d="M125.80 107.08 L127.68 108.43 L129.55 109.79 L131.43 111.15 L133.31 112.50 L135.18 113.86 L137.06 115.21 L138.94 116.57 L140.81 117.93 L142.69 119.28 L144.57 120.64 L146.44 121.99 L148.32 123.34 L150.19 124.70 L152.07 126.05 L153.95 127.40 L155.82 128.76 L157.70 130.11 L159.58 131.46 L161.45 132.82 L163.33 134.17 L165.21 135.52 L167.08 136.87 L168.96 138.22 L170.84 139.57 L172.71 140.92 L174.59 142.27 L176.47 143.62 L178.34 144.97 L180.22 146.32 L182.10 147.67 L183.97 149.02 L185.85 150.37 L187.73 151.72 L189.60 153.06 L191.48 154.41 L193.36 155.76 L195.23 157.11 L197.11 158.45 L198.98 159.80 L200.86 161.15 L202.74 162.49 L204.61 163.84 L206.49 165.18 L208.37 166.53 L210.24 167.87 L212.12 169.22 L214.00 170.56 L215.87 171.91 L217.75 173.25 L217.75 173.25 L219.68 174.65 L221.61 176.04 L223.54 177.44 L225.47 178.84 L227.40 180.23 L229.33 181.63 L231.26 183.02 L233.19 184.41 L235.12 185.81 L237.05 187.20 L238.98 188.59 L240.91 189.98 L242.83 191.37 L244.76 192.76 L246.69 194.15 L248.62 195.54 L250.55 196.93 L252.48 198.32 L254.41 199.70 L256.34 201.09 L258.27 202.48 L260.20 203.86 L262.13 205.25 L264.06 206.63 L265.99 208.01 L267.92 209.40 L269.85 210.78 L271.78 212.16 L273.71 213.54 L275.64 214.92 L277.57 216.30 L279.50 217.68 L281.43 219.06 L283.36 220.44 L285.29 221.81 L287.22 223.19 L289.14 224.57 L291.07 225.94 L293.00 227.32 L294.93 228.69 L296.86 230.07 L298.79 231.44 L300.72 232.81 L302.65 234.18 L304.58 235.56 L306.51 236.93 L308.44 238.30 L310.37 239.67 L312.30 241.04" fill="none" stroke="#0000ff" stroke-width="2.0"/>
<path d="M102.75 291.63 L105.70 288.57 L108.65 285.52 L111.60 282.46 L114.54 279.40 L117.49 276.35 L120.44 273.29 L123.39 270.23 L126.34 267.18 L129.29 264.27 L132.24 261.35 L135.19 258.43 L138.13 255.50 L141.08 252.56 L144.03 249.62 L146.98 246.66 L149.93 243.70 L152.88 240.74 L155.83 237.76 L158.78 234.78 L161.72 231.79 L164.67 228.79 L167.62 225.79 L170.57 222.78 L173.52 219.76 L176.47 216.74 L179.42 213.70 L182.37 210.66 L185.31 207.62 L188.26 204.56 L191.21 201.50 L194.16 198.43 L197.11 195.35 L200.06 192.27 L203.01 189.18 L205.96 186.08 L208.90 182.97 L211.85 179.86 L214.80 176.74 L217.75 173.61 L311.60 77.70 L349.50 38.00 L384.80 1.40" fill="none" stroke="#ff9a45" stroke-width="1.25"/>
<path d="M102.75 291.63 L105.70 288.57 L108.65 285.52 L111.60 282.46 L114.54 279.40 L117.49 276.35 L120.44 273.29 L123.39 270.23 L126.34 267.18 L129.29 264.27 L132.24 261.35 L135.19 258.43 L138.13 255.50 L141.08 252.56 L144.03 249.62 L146.98 246.66 L149.93 243.70 L152.88 240.74 L155.83 237.76 L158.78 234.78 L161.72 231.79 L164.67 228.79 L167.62 225.79 L170.57 222.78 L173.52 219.76 L176.47 216.74 L179.42 213.70 L182.37 210.66 L185.31 207.62 L188.26 204.56 L191.21 201.50 L194.16 198.43 L197.11 195.35 L200.06 192.27 L203.01 189.18 L205.96 186.08 L208.90 182.97 L211.85 179.86 L214.80 176.74 L217.75 173.61 L311.60 77.70 L349.50 38.00 L384.80 1.40" fill="none" stroke="#fff4e8" stroke-width="0.45"/>
<path d="M40.00 350.50 L49.00 341.60 L126.25 263.98 L129.41 260.97 L132.56 257.95 L135.72 254.92 L138.87 251.88 L142.03 248.84 L145.18 245.78 L148.34 242.72 L151.49 239.65 L154.65 236.57 L157.80 233.49 L160.96 230.39 L164.11 227.29 L167.27 224.18 L170.42 221.06 L173.58 217.93 L176.73 214.79 L179.89 211.65 L183.04 208.49 L186.20 205.33 L189.35 202.16 L192.51 198.98 L195.66 195.79 L198.82 192.60 L201.97 189.39 L205.13 186.18 L208.28 182.96 L211.44 179.73 L214.59 176.50 L217.75 173.25" fill="none" stroke="#ff8000" stroke-width="2.1" stroke-dasharray="6.6 2.0" stroke-dashoffset="8.2"/>
<path d="M217.75 173.25 L311.60 79.20 L358.90 31.20 L383.40 7.60 L390.50 1.00 L395.00 -3.20" fill="none" stroke="#ff8000" stroke-width="2.15" stroke-dasharray="6.4 2.2" stroke-dashoffset="1.75"/>
<path d="M126.25 263.98 L129.41 260.97 L132.56 257.95 L135.72 254.92 L138.87 251.88 L142.03 248.84 L145.18 245.78 L148.34 242.72 L151.49 239.65 L154.65 236.57 L157.80 233.49 L160.96 230.39 L164.11 227.29 L167.27 224.18 L170.42 221.06 L173.58 217.93 L176.73 214.79 L179.89 211.65 L183.04 208.49 L186.20 205.33 L189.35 202.16 L192.51 198.98 L195.66 195.79 L198.82 192.60 L201.97 189.39 L205.13 186.18 L208.28 182.96 L211.44 179.73 L214.59 176.50 L217.75 173.25 L311.60 78.60" fill="none" stroke="#ff8000" stroke-width="2.15"/>
<path d="M239.30 151.90 L234.00 163.28 L232.23 158.97 L227.92 157.20Z" fill="#ff8000"/>
<path d="M237.70 187.50 L226.25 184.59 L230.14 182.09 L231.26 177.60Z" fill="#0000ff"/>
</g>
<path d="M66.07 342.30v-4.60M66.07 0.60v4.60M48.80 324.98h4.60M391.10 324.98h-4.60M85.03 342.30v-2.80M85.03 0.60v2.80M48.80 306.02h2.80M391.10 306.02h-2.80M103.99 342.30v-2.80M103.99 0.60v2.80M48.80 287.06h2.80M391.10 287.06h-2.80M122.95 342.30v-2.80M122.95 0.60v2.80M48.80 268.10h2.80M391.10 268.10h-2.80M141.91 342.30v-4.60M141.91 0.60v4.60M48.80 249.14h4.60M391.10 249.14h-4.60M160.87 342.30v-2.80M160.87 0.60v2.80M48.80 230.18h2.80M391.10 230.18h-2.80M179.83 342.30v-2.80M179.83 0.60v2.80M48.80 211.22h2.80M391.10 211.22h-2.80M198.79 342.30v-2.80M198.79 0.60v2.80M48.80 192.26h2.80M391.10 192.26h-2.80M217.75 342.30v-4.60M217.75 0.60v4.60M48.80 173.30h4.60M391.10 173.30h-4.60M236.71 342.30v-2.80M236.71 0.60v2.80M48.80 154.34h2.80M391.10 154.34h-2.80M255.67 342.30v-2.80M255.67 0.60v2.80M48.80 135.38h2.80M391.10 135.38h-2.80M274.63 342.30v-2.80M274.63 0.60v2.80M48.80 116.42h2.80M391.10 116.42h-2.80M293.59 342.30v-4.60M293.59 0.60v4.60M48.80 97.46h4.60M391.10 97.46h-4.60M312.55 342.30v-2.80M312.55 0.60v2.80M48.80 78.50h2.80M391.10 78.50h-2.80M331.51 342.30v-2.80M331.51 0.60v2.80M48.80 59.54h2.80M391.10 59.54h-2.80M350.47 342.30v-2.80M350.47 0.60v2.80M48.80 40.58h2.80M391.10 40.58h-2.80M369.43 342.30v-4.60M369.43 0.60v4.60M48.80 21.62h4.60M391.10 21.62h-4.60M388.39 342.30v-2.80M388.39 0.60v2.80M48.80 2.66h2.80M391.10 2.66h-2.80" fill="none" stroke="#808080" stroke-width="1"/>
<rect x="48.80" y="0.60" width="342.30" height="341.70" fill="none" stroke="#808080" stroke-width="1"/>
<g font-family="Liberation Sans, sans-serif">
<text x="66.1" y="359.4" font-size="13.5" fill="#626262" stroke="#626262" stroke-width="0.1"  text-anchor="middle" >0.6</text>
<text x="45.3" y="329.9" font-size="13.5" fill="#626262" stroke="#626262" stroke-width="0.1"  text-anchor="end" >0.6</text>
<text x="141.9" y="359.4" font-size="13.5" fill="#626262" stroke="#626262" stroke-width="0.1"  text-anchor="middle" >0.8</text>
<text x="45.3" y="254.0" font-size="13.5" fill="#626262" stroke="#626262" stroke-width="0.1"  text-anchor="end" >0.8</text>
<text x="217.8" y="359.4" font-size="13.5" fill="#626262" stroke="#626262" stroke-width="0.1"  text-anchor="middle" >1.0</text>
<text x="45.3" y="178.2" font-size="13.5" fill="#626262" stroke="#626262" stroke-width="0.1"  text-anchor="end" >1.0</text>
<text x="293.6" y="359.4" font-size="13.5" fill="#626262" stroke="#626262" stroke-width="0.1"  text-anchor="middle" >1.2</text>
<text x="45.3" y="102.4" font-size="13.5" fill="#626262" stroke="#626262" stroke-width="0.1"  text-anchor="end" >1.2</text>
<text x="369.4" y="359.4" font-size="13.5" fill="#626262" stroke="#626262" stroke-width="0.1"  text-anchor="middle" >1.4</text>
<text x="45.3" y="26.5" font-size="13.5" fill="#626262" stroke="#626262" stroke-width="0.1"  text-anchor="end" >1.4</text>
<text x="211.0" y="383.3" font-size="13.5" fill="#626262" stroke="#626262" stroke-width="0.1" font-style="italic" text-anchor="start" >R</text>
<text x="220.6" y="385.4" font-size="9.3" fill="#626262" stroke="#626262" stroke-width="0.1" font-style="italic" text-anchor="start" >K</text>
<g transform="translate(13.9,182) rotate(-90)"><text x="0" y="0" font-size="13.5" fill="#626262" font-style="italic">R</text><text x="9.6" y="2.6" font-size="9.3" fill="#626262" font-style="italic">K</text><text x="16.2" y="2.5" font-size="10" fill="#626262" font-style="italic">*</text></g>
<text transform="translate(92.50,78.60) scale(0.85,1)" x="0" y="0" font-size="15.2" fill="#1616a6" stroke="#1616a6" stroke-width="0.2" font-style="italic">C</text>
<text x="101.5" y="72.8" font-size="10.2" fill="#1616a6" stroke="#1616a6" stroke-width="0.22"  text-anchor="start" >NP</text>
<text x="101.8" y="81.2" font-size="10.2" fill="#1616a6" stroke="#1616a6" stroke-width="0.22"  text-anchor="start" >bs</text>
<text x="112.5" y="83.0" font-size="9.5" fill="#1616a6" stroke="#1616a6" stroke-width="0.22" font-style="italic" text-anchor="start" >R</text>
<text x="124.0" y="80.9" font-size="9.7" fill="#1616a6" stroke="#1616a6" stroke-width="0.22" font-style="italic" text-anchor="start" >(μ−e)</text>
<text x="146.5" y="83.9" font-size="9.5" fill="#1616a6" stroke="#1616a6" stroke-width="0.22" font-style="italic" text-anchor="start" >L</text>
<text transform="translate(232.90,101.00) scale(0.85,1)" x="0" y="0" font-size="15.2" fill="#a4a416" stroke="#a4a416" stroke-width="0.2" font-style="italic">C</text>
<text x="242.8" y="95.0" font-size="10.2" fill="#a4a416" stroke="#a4a416" stroke-width="0.22"  text-anchor="start" >NP</text>
<text x="242.0" y="103.9" font-size="10.2" fill="#a4a416" stroke="#a4a416" stroke-width="0.22"  text-anchor="start" >bs</text>
<text x="253.8" y="106.6" font-size="10" fill="#a4a416" stroke="#a4a416" stroke-width="0.22" font-style="italic" text-anchor="start" >X</text>
<text x="263.8" y="103.7" font-size="9.0" fill="#a4a416" stroke="#a4a416" stroke-width="0.22" font-style="italic" text-anchor="start" >μ</text>
<text x="269.0" y="106.8" font-size="9.5" fill="#a4a416" stroke="#a4a416" stroke-width="0.22" font-style="italic" text-anchor="start" >R</text>
<text transform="translate(321.00,89.20) scale(0.85,1)" x="0" y="0" font-size="15.2" fill="#b85c14" stroke="#b85c14" stroke-width="0.2" font-style="italic">C</text>
<text x="331.0" y="83.2" font-size="10.2" fill="#b85c14" stroke="#b85c14" stroke-width="0.22"  text-anchor="start" >NP</text>
<text x="330.8" y="91.8" font-size="10.2" fill="#b85c14" stroke="#b85c14" stroke-width="0.22"  text-anchor="start" >bs</text>
<text x="341.0" y="94.7" font-size="9.5" fill="#b85c14" stroke="#b85c14" stroke-width="0.22" font-style="italic" text-anchor="start" >L</text>
<text x="349.6" y="92.1" font-size="9.7" fill="#b85c14" stroke="#b85c14" stroke-width="0.22" font-style="italic" text-anchor="start" >(μ−e)</text>
<text x="373.0" y="95.3" font-size="9.5" fill="#b85c14" stroke="#b85c14" stroke-width="0.22" font-style="italic" text-anchor="start" >L</text>
<text transform="translate(318.60,176.50) scale(0.85,1)" x="0" y="0" font-size="15.2" fill="#1ea028" stroke="#1ea028" stroke-width="0.2" font-style="italic">C</text>
<text x="328.4" y="170.3" font-size="10.2" fill="#1ea028" stroke="#1ea028" stroke-width="0.22"  text-anchor="start" >NP</text>
<text x="328.2" y="179.1" font-size="10.2" fill="#1ea028" stroke="#1ea028" stroke-width="0.22"  text-anchor="start" >bs</text>
<text x="338.8" y="182.0" font-size="9.4" fill="#1ea028" stroke="#1ea028" stroke-width="0.22" font-style="italic" text-anchor="start" >(L=R)</text>
<text x="367.2" y="179.6" font-size="9.0" fill="#1ea028" stroke="#1ea028" stroke-width="0.22" font-style="italic" text-anchor="start" >μ</text>
<text x="372.6" y="182.6" font-size="9.5" fill="#1ea028" stroke="#1ea028" stroke-width="0.22" font-style="italic" text-anchor="start" >R</text>
<text transform="translate(72.80,213.90) scale(0.85,1)" x="0" y="0" font-size="15.2" fill="#9c642e" stroke="#9c642e" stroke-width="0.2" font-style="italic">C</text>
<text x="82.5" y="207.9" font-size="10.2" fill="#9c642e" stroke="#9c642e" stroke-width="0.22"  text-anchor="start" >NP</text>
<text x="82.3" y="216.4" font-size="10.2" fill="#9c642e" stroke="#9c642e" stroke-width="0.22"  text-anchor="start" >bs</text>
<text x="92.4" y="219.4" font-size="9.4" fill="#9c642e" stroke="#9c642e" stroke-width="0.22" font-style="italic" text-anchor="start" >(L=R)</text>
<text x="121.5" y="217.4" font-size="9.0" fill="#9c642e" stroke="#9c642e" stroke-width="0.22" font-style="italic" text-anchor="start" >e</text>
<text x="127.1" y="220.1" font-size="9.5" fill="#9c642e" stroke="#9c642e" stroke-width="0.22" font-style="italic" text-anchor="start" >R</text>
<text transform="translate(176.70,233.00) scale(0.85,1)" x="0" y="0" font-size="15.2" fill="#6e1e82" stroke="#6e1e82" stroke-width="0.2" font-style="italic">C</text>
<text x="186.5" y="226.9" font-size="10.2" fill="#6e1e82" stroke="#6e1e82" stroke-width="0.22"  text-anchor="start" >NP</text>
<text x="186.3" y="235.5" font-size="10.2" fill="#6e1e82" stroke="#6e1e82" stroke-width="0.22"  text-anchor="start" >bs</text>
<text x="196.2" y="239.3" font-size="10" fill="#6e1e82" stroke="#6e1e82" stroke-width="0.22" font-style="italic" text-anchor="start" >X</text>
<text x="206.9" y="236.5" font-size="9.0" fill="#6e1e82" stroke="#6e1e82" stroke-width="0.22" font-style="italic" text-anchor="start" >e</text>
<text x="212.1" y="239.6" font-size="9.5" fill="#6e1e82" stroke="#6e1e82" stroke-width="0.22" font-style="italic" text-anchor="start" >R</text>
</g>
</svg>
</body></html>
